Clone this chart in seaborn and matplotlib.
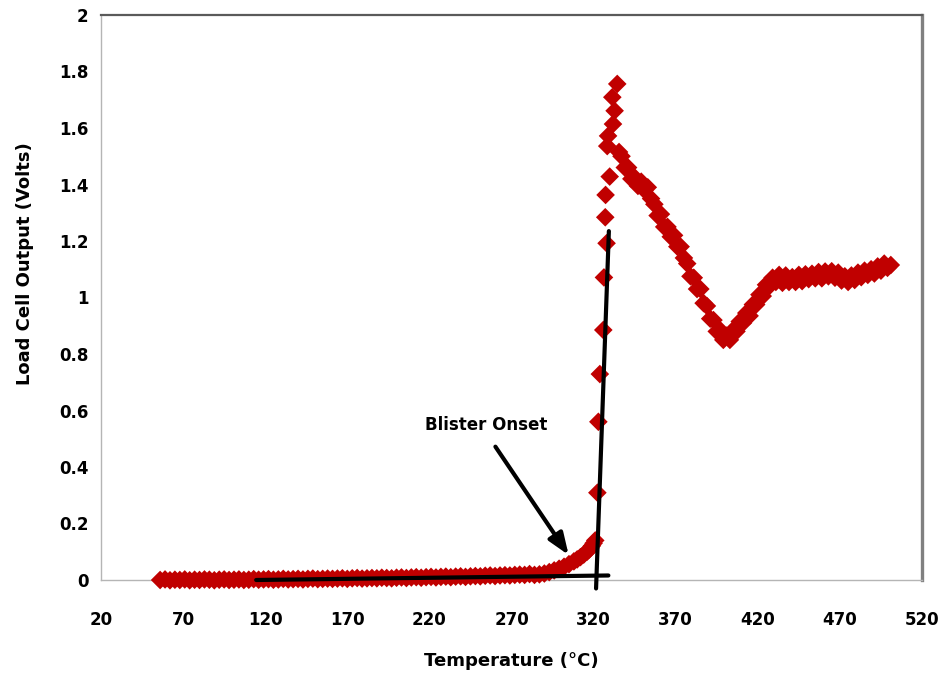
import matplotlib
matplotlib.use("Agg")
import matplotlib.pyplot as plt
from matplotlib.ticker import MultipleLocator
import seaborn as sns
import pandas as pd

# ---- data ----
base_T = [56, 59, 62, 65, 68, 71, 74, 77, 80, 83, 86, 89, 92, 95, 98, 101, 104, 107, 110, 113,
          116, 119, 122, 125, 128, 131, 134, 137, 140, 143, 146, 149, 152, 155, 158, 161, 164, 167,
          170, 173, 176, 179, 182, 185, 188, 191, 194, 197, 200, 203, 206, 209, 212, 215, 218, 221,
          224, 227, 230, 233, 236, 239, 242, 245, 248, 251, 254, 257, 260, 263, 266, 269, 272, 275,
          278, 281]
base_V = [0.000, 0.002, -0.001, 0.001, 0.000, 0.002, -0.001, 0.001, 0.000, 0.002, 0.001, -0.001,
          0.001, 0.002, 0.000, 0.001, 0.002, 0.000, 0.001, 0.003, 0.001, 0.002, 0.003, 0.001,
          0.002, 0.004, 0.002, 0.003, 0.004, 0.002, 0.004, 0.005, 0.003, 0.004, 0.005, 0.004,
          0.005, 0.006, 0.004, 0.006, 0.007, 0.005, 0.006, 0.007, 0.006, 0.008, 0.007, 0.006,
          0.008, 0.009, 0.007, 0.009, 0.010, 0.008, 0.010, 0.011, 0.009, 0.011, 0.012, 0.010,
          0.012, 0.013, 0.011, 0.013, 0.014, 0.013, 0.015, 0.016, 0.014, 0.016, 0.017, 0.016,
          0.018, 0.019, 0.018, 0.021]

rise_T = [284, 287, 290, 293, 296, 299, 302, 305, 308, 310, 312, 314, 316, 317, 318, 319, 320, 321]
rise_V = [0.018, 0.020, 0.023, 0.028, 0.034, 0.040, 0.047, 0.056, 0.066, 0.073, 0.081, 0.090,
          0.100, 0.106, 0.113, 0.121, 0.130, 0.140]

spike_T = [322.3, 322.9, 323.8, 325.9, 326.3, 327.9, 327.1, 327.3, 329.8, 328.3, 328.8, 331.8,
           332.8, 331.4, 334.4]
spike_V = [0.309, 0.560, 0.729, 0.885, 1.071, 1.192, 1.284, 1.363, 1.428, 1.536, 1.572, 1.614,
           1.661, 1.709, 1.756]

decay_T = [335.5, 337, 339, 341, 343, 345, 347, 349, 351, 353, 355, 357, 359, 361, 363, 365, 367,
           369, 371, 373, 375, 377, 379, 381, 383, 385, 387, 389, 391, 393, 395, 397, 399, 401,
           403, 405, 407, 409, 411, 413, 415, 417, 419, 421, 423, 425, 427, 429, 431, 433, 435,
           437, 439, 441, 443, 445, 447, 449, 451, 453, 455, 457, 459, 461, 463, 465, 467, 469,
           471, 473, 475, 477, 479, 481, 483, 485, 487, 489, 491, 493, 495, 497, 499, 501]
decay_V = [1.515, 1.500, 1.460, 1.460, 1.420, 1.425, 1.395, 1.410, 1.380, 1.390, 1.350, 1.330,
           1.290, 1.295, 1.250, 1.250, 1.215, 1.220, 1.180, 1.180, 1.140, 1.120, 1.075, 1.070,
           1.030, 1.030, 0.980, 0.970, 0.925, 0.920, 0.880, 0.885, 0.850, 0.865,
           0.850, 0.885, 0.880, 0.915, 0.910, 0.945, 0.935, 0.975, 0.975, 1.010, 1.005, 1.045,
           1.040, 1.070, 1.055, 1.080, 1.052, 1.078, 1.055, 1.072, 1.055, 1.080, 1.058, 1.082,
           1.065, 1.084, 1.068, 1.090, 1.068, 1.092, 1.075, 1.093, 1.070, 1.088, 1.060, 1.075,
           1.055, 1.078, 1.062, 1.088, 1.072, 1.095, 1.080, 1.100, 1.085, 1.110, 1.095, 1.120,
           1.105, 1.115]

# tangent lines used to mark the blister onset
base_fit_T = [114.5, 329.0]
base_fit_V = [0.000, 0.016]
rise_fit_T = [321.5, 329.3]
rise_fit_V = [-0.030, 1.235]

arrow_tail = (260.2, 0.472)
arrow_head = (304.8, 0.0885)
annot_text = "Blister Onset"
annot_pos = (254.8, 0.549)

x_ticks = [20, 70, 120, 170, 220, 270, 320, 370, 420, 470, 520]
y_ticks = [0, 0.2, 0.4, 0.6, 0.8, 1, 1.2, 1.4, 1.6, 1.8, 2]
y_tick_labels = ["0", "0.2", "0.4", "0.6", "0.8", "1", "1.2", "1.4", "1.6", "1.8", "2"]

# ---- build table ----
df = pd.DataFrame({
    "Temperature": base_T + rise_T + spike_T + decay_T,
    "Load": base_V + rise_V + spike_V + decay_V,
})
fit_df = pd.concat([
    pd.DataFrame({"T": base_fit_T, "V": base_fit_V, "line": "base"}),
    pd.DataFrame({"T": rise_fit_T, "V": rise_fit_V, "line": "rise"}),
], ignore_index=True)

sns.set_style("white")
plt.rcParams["font.family"] = ["DejaVu Sans"]

fig = plt.figure(figsize=(9.44, 6.77), dpi=100)
ax = fig.add_axes([101 / 944, 1 - 580 / 677, (922 - 101) / 944, (580 - 15) / 677])

sns.scatterplot(data=df, x="Temperature", y="Load", ax=ax, marker="D", s=90,
                color="#C00000", edgecolor="none", linewidth=0, clip_on=False, zorder=3)

for name, sub in fit_df.groupby("line"):
    sns.lineplot(data=sub, x="T", y="V", ax=ax, sort=False, estimator=None,
                 color="black", linewidth=3.0, zorder=4, clip_on=False)

ax.annotate("", xy=arrow_head, xytext=arrow_tail, textcoords="data",
            arrowprops=dict(arrowstyle="-|>,head_length=1.3,head_width=0.5",
                            mutation_scale=10, color="black", lw=3.0,
                            shrinkA=0, shrinkB=0),
            zorder=5)
ax.text(annot_pos[0], annot_pos[1], annot_text, ha="center", va="center",
        fontsize=12, fontweight="bold", color="black", zorder=5)

ax.set_xlim(20, 520)
ax.set_ylim(0, 2)
ax.set_xticks(x_ticks)
ax.set_yticks(y_ticks)
ax.set_yticklabels(y_tick_labels)
ax.xaxis.set_minor_locator(MultipleLocator(10))
ax.yaxis.set_minor_locator(MultipleLocator(0.04))

ax.tick_params(axis="both", which="both", direction="in", color="#a0a0a0", width=1,
               labelcolor="black")
ax.tick_params(axis="both", which="major", length=5, labelsize=12)
ax.tick_params(axis="both", which="minor", length=5)
ax.tick_params(axis="x", which="major", pad=22)
ax.tick_params(axis="y", which="major", pad=9)
for lab in ax.get_xticklabels() + ax.get_yticklabels():
    lab.set_fontweight("bold")

ax.set_xlabel("Temperature (°C)", fontsize=13, fontweight="bold", color="black")
ax.set_ylabel("Load Cell Output (Volts)", fontsize=13, fontweight="bold", color="black")
ax.xaxis.set_label_coords(0.5, -0.127)
ax.yaxis.set_label_coords(-0.082, 0.56)

ax.spines["left"].set_color("#b5b5b5")
ax.spines["bottom"].set_color("#b5b5b5")
ax.spines["left"].set_linewidth(1)
ax.spines["bottom"].set_linewidth(1)
ax.spines["top"].set_color("#5a5a5a")
ax.spines["top"].set_linewidth(1.6)
ax.spines["right"].set_color("#808080")
ax.spines["right"].set_linewidth(2.4)
ax.grid(False)

fig.savefig("out.png", dpi=100)
